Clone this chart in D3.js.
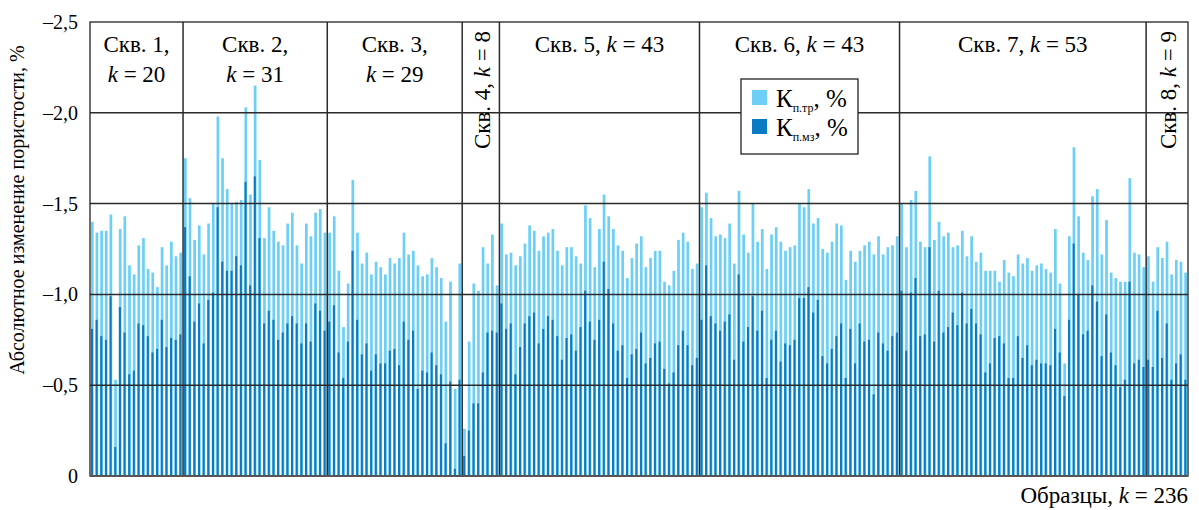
<!DOCTYPE html>
<html>
<head>
    <meta charset="utf-8">
    <style>
        body {
            margin: 0;
            background: white;
        }
        svg {
            font-family: 'Liberation Serif', 'Times New Roman', serif;
        }
    </style>
</head>
<body>
    <svg id="chart" width="1199" height="510"></svg>

<script src="https://d3js.org/d3.v7.min.js"></script>
<script>

    // скважины и число образцов
    let groups = ["Скв. 1", "Скв. 2", "Скв. 3", "Скв. 4", "Скв. 5", "Скв. 6", "Скв. 7", "Скв. 8"]
    let groupK = [20, 31, 29, 8, 43, 43, 53, 9]
    let totalK = 236

    // Кп.тр, % (по образцам, подряд по скважинам)
    let kTr = [
        // Скв. 1
        -1.40, -1.34, -1.35, -1.35, -1.44, -0.53, -1.36, -1.43, -1.16, -1.11, -1.27, -1.31, -1.14, -1.12, -1.04, -1.26, -1.16, -1.29, -1.21, -1.23,
        // Скв. 2
        -1.75, -1.53, -1.30, -1.38, -1.22, -1.39, -1.50, -1.98, -1.75, -1.58, -1.50, -1.51, -1.52, -2.03, -1.55, -2.15, -1.74, -1.31, -1.48, -1.35,
        -1.29, -1.27, -1.39, -1.45, -1.27, -1.17, -1.39, -1.32, -1.45, -1.47, -1.34,
        // Скв. 3
        -1.34, -1.43, -1.13, -0.82, -1.06, -1.63, -1.34, -1.17, -1.23, -1.11, -1.18, -1.15, -1.11, -1.20, -1.17, -1.20, -1.34, -1.22, -1.24, -1.16,
        -1.10, -1.11, -1.20, -1.15, -1.09, -0.85, -1.07, -0.48, -1.17,
        // Скв. 4
        -0.26, -0.74, -1.06, -1.02, -1.26, -1.17, -1.33, -1.05,
        // Скв. 5
        -1.39, -1.22, -1.23, -1.16, -1.21, -1.28, -1.38, -1.35, -1.24, -1.32, -1.34, -1.36, -1.24, -1.16, -1.26, -1.26, -1.21, -1.17, -1.49, -1.42,
        -1.15, -1.36, -1.55, -1.43, -1.36, -1.27, -1.24, -1.09, -1.20, -1.28, -1.32, -1.15, -1.20, -1.24, -1.24, -1.07, -1.05, -1.13, -1.30, -1.34,
        -1.29, -1.14, -1.17,
        // Скв. 6
        -1.48, -1.56, -1.42, -1.32, -1.33, -1.31, -1.39, -1.17, -1.57, -1.33, -1.23, -1.50, -1.29, -1.36, -1.14, -1.33, -1.37, -1.29, -1.24, -1.26,
        -1.27, -1.50, -1.48, -1.58, -1.39, -1.42, -1.25, -1.23, -1.29, -1.39, -1.38, -1.08, -1.24, -1.18, -1.24, -1.27, -1.29, -1.22, -1.32, -1.22,
        -1.26, -1.27, -1.32,
        // Скв. 7
        -1.50, -1.26, -1.52, -1.57, -1.29, -1.26, -1.76, -1.30, -1.40, -1.32, -1.34, -1.26, -1.27, -1.35, -1.21, -1.32, -1.18, -1.23, -1.13, -1.13,
        -1.13, -1.07, -1.19, -1.12, -1.10, -1.22, -1.17, -1.20, -1.13, -1.16, -1.17, -1.14, -1.12, -1.36, -1.06, -0.62, -1.32, -1.81, -1.43, -1.23,
        -1.19, -1.54, -1.58, -1.22, -1.41, -1.12, -1.09, -1.07, -1.07, -1.64, -1.23, -1.22, -1.15,
        // Скв. 8
        -1.21, -1.07, -1.26, -1.20, -1.29, -1.11, -1.19, -1.18, -1.12
    ]

    // Кп.мз, %
    let kMz = [
        // Скв. 1
        -0.81, -0.86, -0.77, -0.75, -0.99, -0.16, -0.93, -0.79, -0.56, -0.58, -0.84, -0.83, -0.77, -0.68, -0.70, -0.86, -0.71, -0.76, -0.75, -0.78,
        // Скв. 2
        -1.37, -1.10, -0.85, -0.95, -0.73, -0.97, -1.01, -1.48, -1.18, -1.13, -1.13, -1.21, -1.16, -1.62, -1.05, -1.65, -1.31, -0.84, -0.91, -0.86,
        -0.75, -0.79, -0.84, -0.88, -0.84, -0.73, -0.84, -0.74, -0.95, -0.91, -0.80,
        // Скв. 3
        -0.85, -0.94, -0.68, -0.54, -0.74, -1.24, -0.86, -0.67, -0.73, -0.58, -0.67, -0.62, -0.62, -0.69, -0.70, -0.61, -0.85, -0.75, -0.80, -0.48,
        -0.58, -0.57, -0.68, -0.61, -0.56, -0.18, -0.52, -0.04, -0.53,
        // Скв. 4
        -0.11, -0.25, -0.40, -0.40, -0.57, -0.79, -0.80, -0.79,
        // Скв. 5
        -0.95, -0.81, -0.84, -0.56, -0.71, -0.84, -0.88, -0.90, -0.73, -0.81, -0.88, -0.86, -0.77, -0.64, -0.76, -0.78, -0.69, -0.82, -1.02, -0.85,
        -0.75, -0.86, -1.18, -1.03, -0.84, -0.69, -0.72, -0.54, -0.67, -0.70, -0.79, -0.62, -0.65, -0.73, -0.74, -0.59, -0.51, -0.57, -0.72, -0.80,
        -0.72, -0.61, -0.65,
        // Скв. 6
        -0.86, -1.16, -0.88, -0.84, -0.80, -0.85, -0.89, -0.64, -1.11, -0.74, -0.82, -0.99, -0.80, -0.91, -0.54, -0.75, -0.80, -0.63, -0.73, -0.72,
        -0.75, -0.98, -0.98, -1.04, -0.90, -0.97, -0.66, -0.62, -0.70, -0.77, -0.84, -0.54, -0.81, -0.62, -0.84, -0.74, -0.75, -0.45, -0.79, -0.73,
        -0.69, -0.77, -0.79,
        // Скв. 7
        -1.02, -0.69, -1.01, -1.09, -0.77, -0.78, -1.26, -0.74, -1.02, -0.79, -0.82, -0.90, -0.83, -1.01, -0.84, -0.92, -0.84, -0.78, -0.57, -0.62,
        -0.76, -0.77, -0.73, -0.54, -0.54, -0.77, -0.65, -0.72, -0.61, -0.64, -0.62, -0.62, -0.61, -0.81, -0.68, -0.44, -0.86, -1.28, -1.00, -0.78,
        -0.80, -1.05, -0.96, -0.66, -0.89, -0.68, -0.61, -0.49, -0.53, -1.07, -0.62, -0.64, -0.60,
        // Скв. 8
        -0.64, -0.60, -0.91, -0.65, -0.84, -0.53, -0.62, -0.67, -0.53
    ]

    let yTicks = [0, -0.5, -1.0, -1.5, -2.0, -2.5]
    let yTickLabels = ["0", "–0,5", "–1,0", "–1,5", "–2,0", "–2,5"]

    let colTr = "#6dcff6"
    let colMz = "#0a7bc2"

    let mLeft = 90, mRight = 1188, mTop = 22, mBottom = 476

    let svg = d3.select("#chart")

    let x = d3.scaleBand()
        .domain(d3.range(totalK))
        .range([mLeft, mRight])

    let y = d3.scaleLinear()
        .domain([0, -2.5])
        .range([mBottom, mTop])

    let bw = x.bandwidth()

    // столбики: светлый Кп.тр, поверх тёмный Кп.мз
    svg.append("g")
        .selectAll("rect")
        .data(kTr)
        .join("rect")
        .attr("x", (d, i) => x(i) + bw * 0.2)
        .attr("width", bw * 0.58)
        .attr("y", d => y(d))
        .attr("height", d => y(0) - y(d))
        .attr("fill", colTr)

    svg.append("g")
        .selectAll("rect")
        .data(kMz)
        .join("rect")
        .attr("x", (d, i) => x(i) + bw * 0.2)
        .attr("width", bw * 0.45)
        .attr("y", d => y(d))
        .attr("height", d => y(0) - y(d))
        .attr("fill", colMz)

    // сетка
    svg.append("g")
        .selectAll("line")
        .data(yTicks.slice(1, -1))
        .join("line")
        .attr("x1", mLeft)
        .attr("x2", mRight)
        .attr("y1", d => y(d))
        .attr("y2", d => y(d))
        .attr("stroke", "#2a2a2a")
        .attr("stroke-width", 1.5)

    // границы скважин
    let starts = []
    let acc = 0
    groupK.forEach(k => { starts.push(acc); acc += k })

    svg.append("g")
        .selectAll("line")
        .data(starts.slice(1))
        .join("line")
        .attr("x1", d => x(d))
        .attr("x2", d => x(d))
        .attr("y1", mTop)
        .attr("y2", mBottom)
        .attr("stroke", "#2a2a2a")
        .attr("stroke-width", 1.5)

    // рамка
    svg.append("rect")
        .attr("x", mLeft)
        .attr("y", mTop)
        .attr("width", mRight - mLeft)
        .attr("height", mBottom - mTop)
        .attr("fill", "none")
        .attr("stroke", "#222")
        .attr("stroke-width", 1.3)

    svg.append("line")
        .attr("x1", mLeft).attr("x2", mRight)
        .attr("y1", mBottom).attr("y2", mBottom)
        .attr("stroke", "#555")
        .attr("stroke-width", 2)

    // подписи оси Y
    svg.append("g")
        .selectAll("text")
        .data(yTicks)
        .join("text")
        .attr("x", 78)
        .attr("y", d => y(d))
        .attr("dy", "0.35em")
        .attr("text-anchor", "end")
        .attr("font-size", 20)
        .text((d, i) => yTickLabels[i])

    svg.append("text")
        .attr("transform", "translate(24,210) rotate(-90)")
        .attr("text-anchor", "middle")
        .attr("font-size", 20)
        .text("Абсолютное изменение пористости, %")

    let xl = svg.append("text")
        .attr("x", mRight)
        .attr("y", 503)
        .attr("text-anchor", "end")
        .attr("font-size", 23)
    xl.append("tspan").text("Образцы, ")
    xl.append("tspan").attr("font-style", "italic").text("k")
    xl.append("tspan").text(" = " + totalK)

    // подписи скважин
    let fs = 23
    groups.forEach((g, i) => {
        let x0 = x(starts[i])
        let x1 = x(starts[i] + groupK[i] - 1) + bw
        let cx = (x0 + x1) / 2
        let w = x1 - x0
        if (w < 60) {
            let t = svg.append("text")
                .attr("transform", "translate(" + (cx + 9) + ",90) rotate(-90)")
                .attr("text-anchor", "middle")
                .attr("font-size", fs)
            t.append("tspan").text(g + ", ")
            t.append("tspan").attr("font-style", "italic").text("k")
            t.append("tspan").text(" = " + groupK[i])
        } else if (w < 160) {
            svg.append("text")
                .attr("x", cx)
                .attr("y", 52)
                .attr("text-anchor", "middle")
                .attr("font-size", fs)
                .text(g + ",")
            let t = svg.append("text")
                .attr("x", cx)
                .attr("y", 82)
                .attr("text-anchor", "middle")
                .attr("font-size", fs)
            t.append("tspan").attr("font-style", "italic").text("k")
            t.append("tspan").text(" = " + groupK[i])
        } else {
            let t = svg.append("text")
                .attr("x", cx)
                .attr("y", 52)
                .attr("text-anchor", "middle")
                .attr("font-size", fs)
            t.append("tspan").text(g + ", ")
            t.append("tspan").attr("font-style", "italic").text("k")
            t.append("tspan").text(" = " + groupK[i])
        }
    })

    // легенда
    let legend = svg.append("g").attr("transform", "translate(741,79)")
    legend.append("rect")
        .attr("width", 117)
        .attr("height", 75)
        .attr("fill", "white")
        .attr("stroke", "#222")
        .attr("stroke-width", 1.3)

    let items = [["п.тр", colTr], ["п.мз", colMz]]
    items.forEach((it, i) => {
        legend.append("rect")
            .attr("x", 11)
            .attr("y", 11 + i * 29)
            .attr("width", 15)
            .attr("height", 15)
            .attr("fill", it[1])
        let t = legend.append("text")
            .attr("x", 35)
            .attr("y", 28 + i * 29)
            .attr("font-size", 25)
        t.append("tspan").text("К")
        t.append("tspan").attr("font-size", 12).attr("dy", 5).text(it[0])
        t.append("tspan").attr("dy", -5).text(", %")
    })

</script>
</body>
</html>
